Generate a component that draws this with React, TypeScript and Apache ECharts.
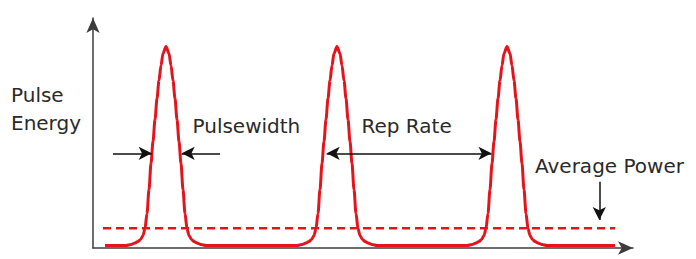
import React, { useEffect, useRef } from "react";
import * as echarts from "echarts";

// Pulse train (x: time, y: pulse energy, arbitrary units)
const pulse1X = [33, 38, 42, 45, 47.5, 50, 52, 54, 56, 58, 60, 62, 64, 66, 68, 70, 73, 76, 78, 80, 82, 84, 86, 88, 90, 92, 94, 96, 98.5, 101, 104, 108, 113];
const pulse2X = [204, 209, 213, 216, 218.5, 221, 223, 225, 227, 229, 231, 233, 235, 237, 239, 241, 244, 247, 249, 251, 253, 255, 257, 259, 261, 263, 265, 267, 269.5, 272, 275, 279, 284];
const pulse3X = [374, 379, 383, 386, 388.5, 391, 393, 395, 397, 399, 401, 403, 405, 407, 409, 411, 414, 417, 419, 421, 423, 425, 427, 429, 431, 433, 435, 437, 439.5, 442, 445, 449, 454];
const pulseEnergy = [2.5, 3.5, 5, 6.5, 8.5, 12.5, 19.5, 34.5, 58.5, 84.5, 106.5, 128.5, 149.5, 167.5, 182.5, 194.5, 201.5, 194.5, 182.5, 167.5, 149.5, 128.5, 106.5, 84.5, 58.5, 34.5, 19.5, 12.5, 8.5, 6.5, 5, 3.5, 2.5];
const trainStart = [12, 2.5];
const trainEnd = [522, 2.5];

// Average power level
const averagePowerX = [10, 522];
const averagePowerLevel = 19.7;

// Annotation arrows (tips, in data units)
const pulsewidthArrowY = 94.7;
const pulsewidthLeft = [20, 58.7]; // tail, tip
const pulsewidthRight = [127, 88.7]; // tail, tip
const repRateTips = [233.7, 398.5];
const averagePowerArrowX = 506.3;
const averagePowerArrowY = [66.3, 28]; // tail, tip

const labels = ["Pulse", "Energy", "Pulsewidth", "Rep Rate", "Average Power"];

const RED = "#e3141c";
const AXIS = "#3c3c3c";
const TEXT = "#2a2a2a";
const ARROW_W = 10;
const ARROW_L = 13;

export default function App() {
  const ref = useRef<HTMLDivElement>(null);
  useEffect(() => {
    if (!ref.current) return;
    const chart = echarts.init(ref.current, undefined, { renderer: "svg" });

    const pulse = (xs: number[]) => xs.map((x, i) => [x, pulseEnergy[i]]);
    const train = [trainStart, ...pulse(pulse1X), ...pulse(pulse2X), ...pulse(pulse3X), trainEnd];

    const font = { fontFamily: "DejaVu Sans", fontSize: 20, fill: TEXT, verticalAlign: "middle" };

    chart.setOption({
      animation: false,
      grid: { left: 93, top: 18, width: 540, height: 230 },
      xAxis: {
        type: "value",
        min: 0,
        max: 540,
        axisLine: {
          show: true,
          symbol: ["none", "arrow"],
          symbolSize: [ARROW_W, 15],
          lineStyle: { color: AXIS, width: 1.5 },
        },
        axisTick: { show: false },
        axisLabel: { show: false },
        splitLine: { show: false },
      },
      yAxis: {
        type: "value",
        min: 0,
        max: 230,
        axisLine: {
          show: true,
          symbol: ["none", "arrow"],
          symbolSize: [ARROW_W, 15],
          lineStyle: { color: AXIS, width: 1.5 },
        },
        axisTick: { show: false },
        axisLabel: { show: false },
        splitLine: { show: false },
      },
      series: [
        {
          type: "line",
          data: [
            [averagePowerX[0], averagePowerLevel],
            [averagePowerX[1], averagePowerLevel],
          ],
          showSymbol: false,
          silent: true,
          lineStyle: { color: RED, width: 2.5, type: [8, 5] },
          z: 2,
        },
        {
          type: "line",
          data: train,
          showSymbol: false,
          silent: true,
          smooth: 0.3,
          smoothMonotone: "x",
          lineStyle: { color: RED, width: 3 },
          z: 3,
        },
        {
          type: "line",
          data: [],
          silent: true,
          markLine: {
            silent: true,
            symbolSize: [ARROW_W, ARROW_L],
            label: { show: false },
            lineStyle: { color: "#111", width: 1.5, type: "solid" },
            emphasis: { disabled: true },
            data: [
              [
                { coord: [pulsewidthLeft[0], pulsewidthArrowY], symbol: "none" },
                { coord: [pulsewidthLeft[1], pulsewidthArrowY], symbol: "arrow" },
              ],
              [
                { coord: [pulsewidthRight[0], pulsewidthArrowY], symbol: "none" },
                { coord: [pulsewidthRight[1], pulsewidthArrowY], symbol: "arrow" },
              ],
              [
                { coord: [repRateTips[0], pulsewidthArrowY], symbol: "arrow" },
                { coord: [repRateTips[1], pulsewidthArrowY], symbol: "arrow" },
              ],
              [
                { coord: [averagePowerArrowX, averagePowerArrowY[0]], symbol: "none" },
                { coord: [averagePowerArrowX, averagePowerArrowY[1]], symbol: "arrow" },
              ],
            ],
          },
        },
      ],
      graphic: [
        { type: "text", x: 11, y: 95, style: { text: labels[0], ...font } },
        { type: "text", x: 11, y: 122.5, style: { text: labels[1], ...font } },
        { type: "text", x: 192.5, y: 125.7, style: { text: labels[2], ...font } },
        { type: "text", x: 361.5, y: 125.7, style: { text: labels[3], ...font } },
        { type: "text", x: 535, y: 165.7, style: { text: labels[4], ...font } },
      ],
    });

    return () => chart.dispose();
  }, []);

  return (
    <div
      ref={ref}
      style={{ position: "fixed", left: 0, top: 0, width: 696, height: 259, background: "#fff" }}
    />
  );
}
